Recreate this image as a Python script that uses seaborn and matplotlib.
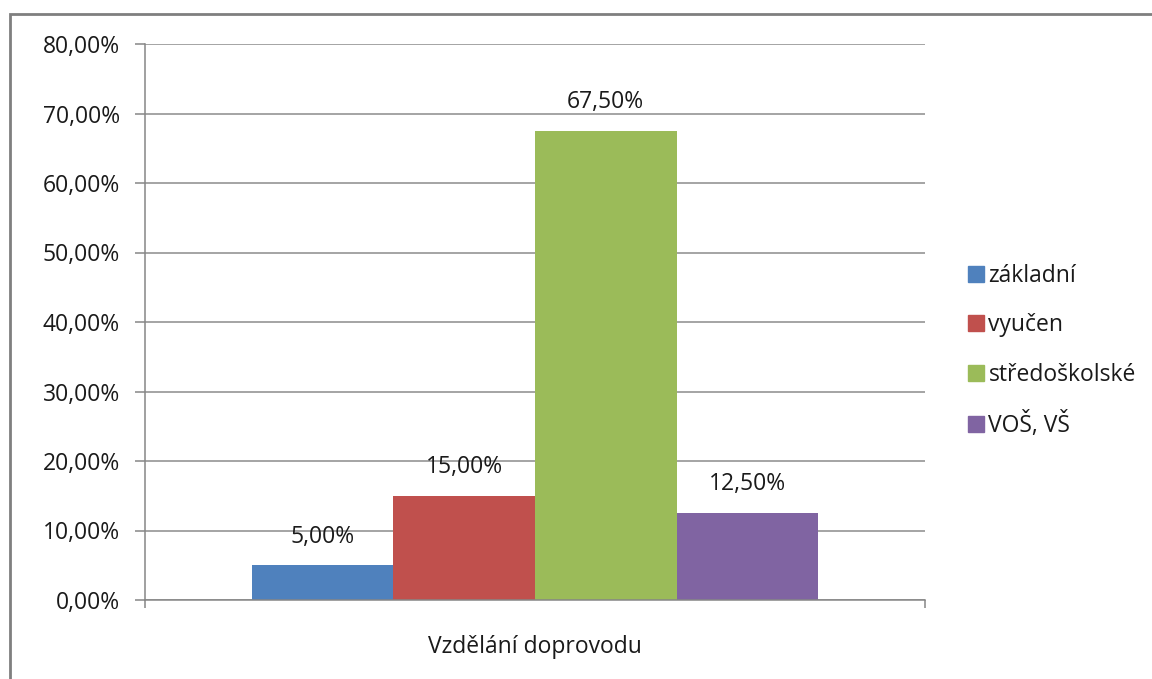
import matplotlib
matplotlib.use("Agg")
import matplotlib.pyplot as plt
import seaborn as sns
import pandas as pd
from matplotlib.ticker import FuncFormatter, FixedLocator
from matplotlib.lines import Line2D

# Data
group = "Vzdělání doprovodu"
levels = ["základní", "vyučen", "středoškolské", "VOŠ, VŠ"]
shares = [5.00, 15.00, 67.50, 12.50]
colors = ["#4F81BD", "#C0504D", "#9BBB59", "#8064A2"]
yticks = [0, 10, 20, 30, 40, 50, 60, 70, 80]

sns.set_theme(style="white")
plt.rcParams["font.family"] = ["Open Sans", "DejaVu Sans"]

df = pd.DataFrame({"skupina": [group] * len(levels), "vzdelani": levels, "podil": shares})

fig = plt.figure(figsize=(11.52, 6.79), dpi=100)
ax = fig.add_axes([145 / 1152, 79 / 679, 780 / 1152, 556 / 679])

sns.barplot(data=df, x="skupina", y="podil", hue="vzdelani", hue_order=levels,
            palette=colors, width=0.726, saturation=1, linewidth=0, ax=ax, legend=False)

ax.set_xlim(-0.5, 0.5)
ax.set_ylim(0, 80)
ax.yaxis.set_major_locator(FixedLocator(yticks))
ax.yaxis.set_major_formatter(FuncFormatter(lambda v, p: f"{v:.2f}".replace(".", ",") + "%"))
ax.grid(axis="y", color="#8c8c8c", linewidth=1.1)
ax.set_axisbelow(True)
for s in ["top", "right"]:
    ax.spines[s].set_visible(False)
for s in ["left", "bottom"]:
    ax.spines[s].set_color("#868686")
    ax.spines[s].set_linewidth(1.1)

fs = 16.5
ax.tick_params(axis="y", which="major", direction="out", length=7, width=1.1,
               color="#868686", pad=11, labelsize=fs, labelcolor="#1a1a1a", left=True)
ax.tick_params(axis="x", which="major", length=0, pad=25, labelsize=fs, labelcolor="#1a1a1a")
ax.xaxis.set_minor_locator(FixedLocator([-0.5, 0.5]))
ax.tick_params(axis="x", which="minor", direction="out", length=6, width=1.1,
               color="#868686", bottom=True)
ax.set_xlabel("")
ax.set_ylabel("")

# Value labels above each bar
for cont in ax.containers:
    ax.bar_label(cont, labels=[f"{v:.2f}".replace(".", ",") + "%" for v in cont.datavalues],
                 padding=12, fontsize=fs, color="#1a1a1a")

# Legend to the right of the plot area
handles = [Line2D([0], [0], marker="s", linestyle="", markersize=11,
                  markerfacecolor=c, markeredgecolor=c) for c in colors]
leg = fig.legend(handles, levels, loc="center left",
                 bbox_to_anchor=(969 / 1152, (679 - 351) / 679),
                 frameon=False, fontsize=fs, handlelength=0.6, handletextpad=0.25,
                 labelspacing=1.1, borderaxespad=0, borderpad=0)
for t in leg.get_texts():
    t.set_color("#1a1a1a")

# Outer chart frame
fig.add_artist(plt.Rectangle((10 / 1152, -0.1), 1.2, (679 - 14) / 679 + 0.1,
                             transform=fig.transFigure, fill=False,
                             edgecolor="#7f7f7f", linewidth=2))

fig.savefig("out.png", dpi=100)
